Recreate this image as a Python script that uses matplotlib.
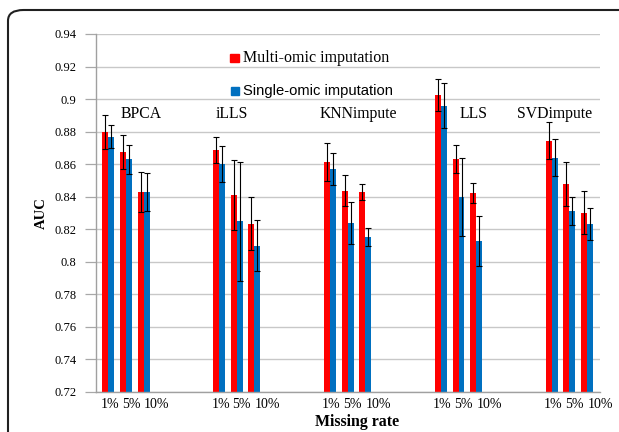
import numpy as np
import matplotlib
matplotlib.use("Agg")
import matplotlib.pyplot as plt
from matplotlib.patches import FancyBboxPatch, Rectangle

# ---- data ----
methods = ["BPCA", "iLLS", "KNNimpute", "LLS", "SVDimpute"]
rates = ["1%", "5%", "10%"]
multi = [[0.880, 0.8675, 0.843],
         [0.869, 0.841, 0.8235],
         [0.8614, 0.8436, 0.8428],
         [0.9025, 0.8632, 0.8424],
         [0.8744, 0.8479, 0.8302]]
multi_err = [[0.0105, 0.0105, 0.0125],
             [0.008, 0.0214, 0.0163],
             [0.0115, 0.0095, 0.005],
             [0.010, 0.0087, 0.006],
             [0.0115, 0.0137, 0.0132]]
single = [[0.877, 0.863, 0.843],
          [0.860, 0.825, 0.8098],
          [0.8569, 0.8239, 0.8151],
          [0.896, 0.840, 0.8127],
          [0.864, 0.8314, 0.8233]]
single_err = [[0.007, 0.009, 0.0115],
              [0.011, 0.0366, 0.0156],
              [0.010, 0.013, 0.0055],
              [0.014, 0.024, 0.0154],
              [0.0113, 0.0085, 0.0098]]
series_names = ["Multi-omic imputation", "Single-omic imputation"]
yticks = [0.72, 0.74, 0.76, 0.78, 0.80, 0.82, 0.84, 0.86, 0.88, 0.90, 0.92, 0.94]
ytick_labels = ["0.72", "0.74", "0.76", "0.78", "0.8", "0.82", "0.84", "0.86",
                "0.88", "0.9", "0.92", "0.94"]

# ---- layout (axis units = pixels) ----
group_start, group_step, rate_step, bar_w = 12.3, 111.1, 17.7, 6.0
label_offsets = [1.5, 5.0, 13.0]
method_label_x = [45, 136.5, 262.8, 378.5, 460]
RED, BLUE = "#FF0000", "#0070C0"
SERIF = "Liberation Serif"

fig = plt.figure(figsize=(6.19, 4.32), dpi=100)
ax = fig.add_axes([96 / 619, 1 - 392 / 432, 504 / 619, 358 / 432])

multi_a = np.array(multi); single_a = np.array(single)
centers = np.array([[group_start + g * group_step + r * rate_step
                     for r in range(len(rates))] for g in range(len(methods))])

ax.bar(centers.ravel() - bar_w / 2, multi_a.ravel(), width=bar_w, color=RED, zorder=2)
ax.bar(centers.ravel() + bar_w / 2, single_a.ravel(), width=bar_w, color=BLUE, zorder=2)
ax.errorbar(centers.ravel() - bar_w / 2, multi_a.ravel(), yerr=np.array(multi_err).ravel(),
            fmt="none", ecolor="black", elinewidth=0.8, capsize=2, capthick=0.8, zorder=3)
ax.errorbar(centers.ravel() + bar_w / 2, single_a.ravel(), yerr=np.array(single_err).ravel(),
            fmt="none", ecolor="black", elinewidth=0.8, capsize=2, capthick=0.8, zorder=3)

ax.set_xlim(0, 504)
ax.set_ylim(0.72, 0.94)
ax.set_yticks(yticks)
ax.set_yticklabels(ytick_labels, fontfamily=SERIF, fontsize=9)
ax.tick_params(axis="y", length=8, color="#A8A8A8", width=0.9, pad=6)

xt = (centers + np.array(label_offsets)[None, :]).ravel()
ax.set_xticks(xt)
ax.set_xticklabels(rates * len(methods), fontfamily=SERIF, fontsize=10)
ax.tick_params(axis="x", length=0, pad=4.5)

ax.grid(axis="y", color="#C8C8C8", linewidth=1.0, zorder=0)
ax.set_axisbelow(True)
for s in ["top", "right"]:
    ax.spines[s].set_visible(False)
for s in ["left", "bottom"]:
    ax.spines[s].set_color("#A0A0A0")
    ax.spines[s].set_linewidth(1.0)

# method labels
for m, x in zip(methods, method_label_x):
    ax.text(x, 0.891, m, ha="center", va="center", fontfamily=SERIF, fontsize=11.3)

# legend (manual)
ax.add_patch(Rectangle((138.5 / 504 - 0.008, 0.934 - 0.011), 0.016, 0.022,
                       transform=ax.transAxes, color=RED, zorder=4, clip_on=False))
ax.text(147.3 / 504, 0.934, series_names[0], transform=ax.transAxes, ha="left",
        va="center", fontfamily=SERIF, fontsize=11.5)
ax.add_patch(Rectangle((139 / 504 - 0.008, 0.842 - 0.011), 0.016, 0.022,
                       transform=ax.transAxes, color=BLUE, zorder=4, clip_on=False))
ax.text(147.3 / 504, 0.842, series_names[1], transform=ax.transAxes, ha="left",
        va="center", fontfamily="Liberation Sans", fontsize=10.6)

ax.set_xlabel("Missing rate", fontfamily=SERIF, fontsize=11.4, fontweight="bold")
ax.xaxis.set_label_coords(0.517, -0.085)
ax.xaxis.label.set_va("center")
ax.set_ylabel("AUC", fontfamily=SERIF, fontsize=10.5, fontweight="bold")
ax.yaxis.set_label_coords(-0.109, 0.501)
ax.yaxis.label.set_va("center")

# outer rounded border (cropped at right and bottom)
border = FancyBboxPatch((8 / 619, -0.2), 1.2, (1 - 10 / 432) + 0.2,
                        boxstyle="round,pad=0,rounding_size=0.025",
                        transform=fig.transFigure, fill=False, edgecolor="#202020",
                        linewidth=1.5, zorder=10, clip_on=False)
fig.patches.append(border)

fig.savefig("out.png", dpi=100)
